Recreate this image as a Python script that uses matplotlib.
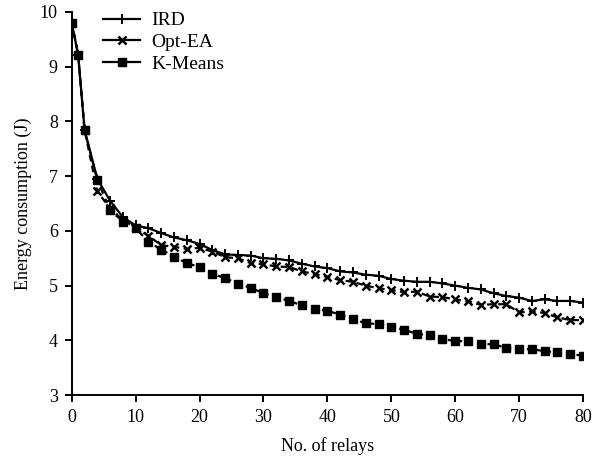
import matplotlib
matplotlib.use("Agg")
import matplotlib.pyplot as plt
from matplotlib.lines import Line2D

relays = [0, 1, 2] + list(range(4, 81, 2))

ird = [9.80, 9.22, 7.85, 6.95, 6.55, 6.25, 6.10, 6.05, 5.96, 5.88,
       5.83, 5.76, 5.65, 5.57, 5.56, 5.55, 5.50, 5.49, 5.46, 5.40,
       5.35, 5.32, 5.26, 5.24, 5.20, 5.18, 5.12, 5.09, 5.07, 5.07,
       5.04, 5.00, 4.96, 4.93, 4.86, 4.81, 4.78, 4.72, 4.75, 4.72,
       4.72, 4.69]

opt_ea = [9.80, 9.22, 7.85, 6.72, 6.41, 6.20, 6.06, 5.91, 5.74, 5.71,
          5.67, 5.69, 5.62, 5.52, 5.50, 5.41, 5.39, 5.35, 5.34, 5.26,
          5.21, 5.16, 5.10, 5.07, 5.00, 4.95, 4.92, 4.88, 4.89, 4.80,
          4.79, 4.75, 4.71, 4.65, 4.66, 4.66, 4.51, 4.53, 4.50, 4.42,
          4.37, 4.37]

kmeans = [9.80, 9.22, 7.84, 6.93, 6.38, 6.17, 6.05, 5.80, 5.66, 5.53,
          5.41, 5.34, 5.21, 5.14, 5.03, 4.96, 4.86, 4.79, 4.72, 4.64,
          4.57, 4.54, 4.47, 4.39, 4.31, 4.30, 4.25, 4.19, 4.12, 4.09,
          4.02, 3.99, 3.98, 3.93, 3.93, 3.86, 3.84, 3.84, 3.80, 3.78,
          3.75, 3.72]

names = ["IRD", "Opt-EA", "K-Means"]

plt.rcParams["font.family"] = ["Liberation Serif", "DejaVu Serif"]
plt.rcParams["font.size"] = 13

fig = plt.figure(figsize=(5.98, 4.61), dpi=100)
ax = fig.add_axes([0.120, 0.143, 0.855, 0.831])

ax.plot(relays, ird, color="black", linestyle="-", linewidth=1.6,
        marker="+", markersize=7, markeredgewidth=1.4)
ax.plot(relays, opt_ea, color="black", linestyle=(0, (3, 2)), linewidth=1.6,
        marker="x", markersize=5.5, markeredgewidth=1.8)
ax.plot(relays, kmeans, color="black", linestyle=(0, (2, 2.5)), linewidth=1.6,
        marker="s", markersize=6)

ax.set_xlim(0, 80)
ax.set_ylim(3, 10)
ax.set_xticks(range(0, 81, 10))
ax.set_yticks(range(3, 11))
ax.spines["top"].set_visible(False)
ax.spines["right"].set_visible(False)
ax.spines["left"].set_linewidth(1.4)
ax.spines["bottom"].set_linewidth(1.4)
ax.tick_params(direction="out", length=5, width=1.4, pad=5)

ax.set_xlabel("No. of relays", labelpad=8)
ax.set_ylabel("Energy consumption (J)", labelpad=6)

# legend drawn with plain solid lines
handles = [
    Line2D([], [], color="black", linewidth=1.6, marker="+", markersize=7, markeredgewidth=1.4),
    Line2D([], [], color="black", linewidth=1.6, marker="x", markersize=5.5, markeredgewidth=1.8),
    Line2D([], [], color="black", linewidth=1.6, marker="s", markersize=6),
]
ax.legend(handles, names, loc="upper left", bbox_to_anchor=(0.043, 1.026),
          frameon=False, borderpad=0, handlelength=1.9, handletextpad=0.55,
          labelspacing=0.22, fontsize=14)

fig.savefig("out.png", dpi=100)
